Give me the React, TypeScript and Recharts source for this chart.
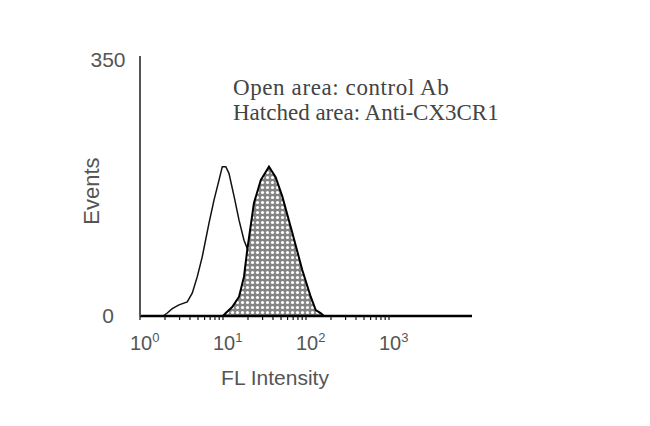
import React from 'react';
import { ComposedChart, Area, XAxis, YAxis, Label } from 'recharts';

// control antibody histogram (open area)
const controlX = [1.9, 2.13, 2.45, 2.95, 3.71, 4.27, 4.9, 5.63, 6.78, 7.79, 8.95, 9.81, 10.8, 11.8, 13.6, 15.6, 17.9, 20.6, 23.6, 28.7, 35.8, 47.3, 62.4, 75];
const controlY = [0, 4, 10, 15, 19, 31, 53, 80, 125, 156, 183, 201, 201, 192, 161, 129, 102, 85, 62, 35, 15, 5, 1, 0];

// anti-CX3CR1 histogram (hatched area)
const antiX = [10, 10.8, 12.9, 15.6, 17.9, 19.6, 23.6, 28.5, 35.8, 43.1, 51.8, 68.4, 90.2, 114, 131, 150, 165];
const antiY = [0, 4, 12, 26, 53, 89, 152, 183, 201, 187, 161, 112, 62, 26, 8, 4, 0];

const majorTicks = [1, 10, 100, 1000];
const minorSteps = [2, 3, 4, 5, 6, 7, 8, 9];
const yTicks = [0, 350];

const controlData = controlX.map((x, i) => ({ x, events: controlY[i] }));
const antiData = antiX.map((x, i) => ({ x, events: antiY[i] }));
const xTicks: number[] = [];
majorTicks.forEach((m, i) => {
  xTicks.push(m);
  if (i < majorTicks.length - 1) minorSteps.forEach((s) => xTicks.push(m * s));
});

const SANS = 'Arial, "Liberation Sans", sans-serif';

const XTick = (props: any) => {
  const { x, y, payload } = props;
  const v = payload.value;
  const exp = Math.round(Math.log10(v));
  const isMajor = Math.abs(Math.pow(10, exp) - v) < 1e-6;
  return (
    <g>
      <line x1={x} x2={x} y1={y - 8} y2={y - 4} stroke="#111" strokeWidth={1.2} />
      {isMajor && (
        <text x={x - 10} y={y + 26} fill="#555" fontSize={20} fontFamily={SANS}>
          10
          <tspan dy={-8} fontSize={13}>{exp}</tspan>
        </text>
      )}
    </g>
  );
};

const YTick = (props: any) => {
  const { y, payload } = props;
  return (
    <text x={108} y={y} dy={payload.value === 0 ? 7 : 11} textAnchor="middle" fill="#555" fontSize={21} fontFamily={SANS}>
      {payload.value}
    </text>
  );
};

export default function App() {
  return (
    <div style={{ position: 'absolute', left: 0, top: 0, width: 650, height: 426, background: '#fff' }}>
      <ComposedChart
        width={650}
        height={426}
        margin={{ top: 56, right: 178, bottom: 80, left: 80 }}
      >
        <defs>
          <pattern id="dots" width={5} height={5} patternUnits="userSpaceOnUse">
            <rect width={5} height={5} fill="#858585" />
            <circle cx={2.5} cy={2.5} r={1.6} fill="#fff" />
          </pattern>
        </defs>
        <XAxis
          dataKey="x"
          type="number"
          scale="log"
          domain={[1, 10000]}
          allowDataOverflow
          ticks={xTicks}
          interval={0}
          height={30}
          axisLine={{ stroke: '#000', strokeWidth: 2.5 }}
          tickLine={false}
          tick={<XTick />}
        >
          <Label
            content={() => (
              <text x={275} y={385} textAnchor="middle" fill="#555" fontSize={21} fontFamily={SANS}>
                FL Intensity
              </text>
            )}
          />
        </XAxis>
        <YAxis
          type="number"
          domain={[0, 350]}
          ticks={yTicks}
          width={60}
          axisLine={{ stroke: '#555', strokeWidth: 2 }}
          tickLine={false}
          tick={<YTick />}
        >
          <Label
            content={() => (
              <text x={99} y={191} transform="rotate(-90 99 191)" textAnchor="middle" fill="#555" fontSize={22} fontFamily={SANS}>
                Events
              </text>
            )}
          />
        </YAxis>
        <Area
          data={controlData}
          dataKey="events"
          type="linear"
          stroke="#111"
          strokeWidth={1.5}
          fill="#fff"
          fillOpacity={0}
          isAnimationActive={false}
          dot={false}
          activeDot={false}
        />
        <Area
          data={antiData}
          dataKey="events"
          type="linear"
          stroke="#000"
          strokeWidth={2}
          fill="url(#dots)"
          fillOpacity={1}
          isAnimationActive={false}
          dot={false}
          activeDot={false}
        />
      </ComposedChart>
      <div
        style={{
          position: 'absolute',
          left: 233,
          top: 75,
          fontFamily: '"Liberation Serif", "Times New Roman", serif',
          fontSize: 23,
          lineHeight: '25px',
          color: '#444',
          whiteSpace: 'nowrap',
        }}
      >
        <div style={{ letterSpacing: 0.6 }}>Open area: control Ab</div>
        <div>Hatched area: Anti-CX3CR1</div>
      </div>
    </div>
  );
}
